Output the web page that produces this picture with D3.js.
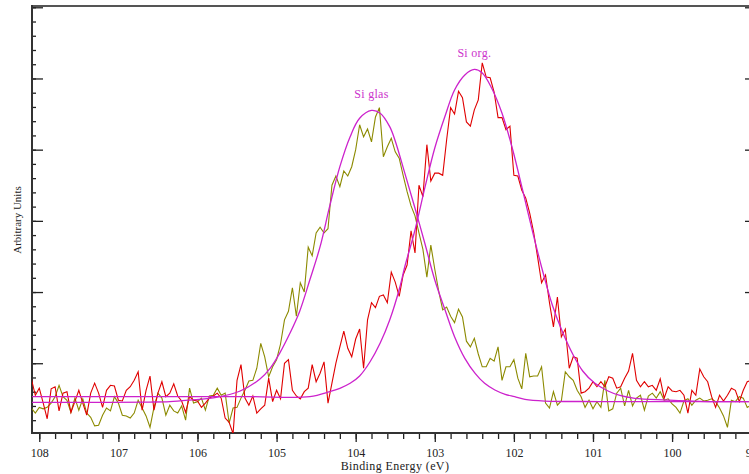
<!DOCTYPE html>
<html>
<head>
<meta charset="utf-8">
<script src="https://cdn.jsdelivr.net/npm/d3@7"></script>
<style>
    body { margin: 0; background: #fff; }
    text { font-family: "Liberation Serif", "Times New Roman", serif; }
</style>
</head>
<body>
<div id="chart-area"></div>
<script>
// XPS Si 2p region - two components, raw counts + fitted envelopes

// sampling of the scan (eV), first channel and step
var energyStart = 108.1,
    energyStep = 0.05;

// Si org. raw counts (red), one value per channel
var siOrgCounts = [
    780, 550, 650, 440, 220, 640, 670, 330, 580, 600,
    310, 460, 620, 440, 270, 580, 720, 580, 380, 620,
    690, 680, 480, 470, 620, 670, 760, 880, 340, 620,
    820, 340, 580, 740, 530, 580, 710, 540, 470, 310,
    530, 480, 470, 380, 440, 510, 540, 580, 510, 230,
    170, 10, 760, 980, 510, 410, 540, 300, 360, 410,
    790, 460, 620, 500, 1000, 1050, 620, 540, 500, 600,
    650, 980, 740, 860, 1020, 440, 720, 1000, 1230, 1450,
    1210, 1090, 1340, 1480, 930, 1610, 1850, 1780, 1940, 1960,
    1850, 2280, 2140, 1940, 2240, 2380, 2860, 2550, 3500, 3340,
    4070, 3560, 3670, 3670, 3640, 4140, 4590, 4500, 4820, 4730,
    4390, 4330, 4560, 4700, 5220, 5020, 5010, 4810, 4450, 4450,
    4280, 4330, 3640, 3630, 3430, 3320, 3110, 2840, 2490, 2130,
    2240, 1850, 1510, 1930, 1370, 1480, 930, 1090, 1070, 580,
    600, 650, 740, 670, 740, 670, 810, 790, 650, 670,
    790, 890, 1140, 760, 670, 740, 670, 690, 620, 780,
    510, 670, 610, 600, 620, 550, 300, 620, 550, 920,
    810, 740, 530, 380, 550, 470, 550, 650, 620, 460,
    620, 740, 760
];

// Si glas raw counts (olive)
var siGlasCounts = [
    370, 300, 380, 360, 380, 440, 530, 690, 530, 480,
    310, 510, 340, 500, 300, 240, 120, 130, 270, 370,
    330, 530, 440, 270, 260, 230, 300, 480, 370, 260,
    100, 380, 580, 510, 270, 410, 330, 300, 400, 200,
    650, 440, 460, 510, 340, 540, 550, 650, 550, 580,
    160, 370, 380, 510, 620, 750, 760, 930, 1280, 1090,
    810, 950, 1050, 1270, 1610, 1730, 2060, 1660, 2130, 2000,
    2630, 2510, 2830, 2910, 2830, 2890, 3500, 3630, 3480, 3700,
    3630, 3760, 4000, 4350, 4180, 4290, 4110, 4460, 4590, 3900,
    4040, 4160, 3970, 3880, 3640, 3410, 3210, 3070, 2830, 2600,
    2210, 2660, 2320, 2010, 1750, 1790, 1660, 1570, 1760, 1650,
    1310, 1230, 1350, 1130, 950, 950, 1070, 1030, 1230, 760,
    950, 950, 1050, 790, 640, 1140, 810, 820, 820, 950,
    440, 370, 600, 410, 470, 880, 810, 760, 620, 530,
    380, 480, 360, 460, 380, 760, 330, 360, 580, 650,
    400, 620, 400, 510, 550, 340, 540, 580, 510, 600,
    480, 500, 430, 380, 300, 470, 500, 410, 480, 510,
    470, 480, 500, 460, 370, 260, 100, 480, 460, 530,
    510, 380, 410
];

// fitted components (magenta), read at selected energies
var siGlasFitEnergy = [108.09, 107.23, 106.60, 106.35, 106.10, 105.78, 105.46, 105.21, 105.08, 104.96,
    104.83, 104.71, 104.58, 104.45, 104.33, 104.20, 104.07, 103.95, 103.80, 103.69,
    103.57, 103.50, 103.38, 103.25, 103.12, 103.00, 102.87, 102.75, 102.62, 102.49,
    102.37, 102.24, 102.11, 101.99, 101.86, 101.61, 100.91, 99.02];
var siGlasFitCounts = [450, 450, 455, 462, 483, 518, 610, 778, 932, 1143,
    1424, 1724, 2169, 2637, 3199, 3761, 4183, 4441, 4551, 4512,
    4323, 4122, 3673, 3177, 2661, 2169, 1748, 1373, 1069, 858,
    718, 624, 563, 530, 493, 469, 462, 462];

var siOrgFitEnergy = [108.09, 106.60, 105.34, 104.58, 104.33, 104.20, 104.07, 103.95, 103.82, 103.69,
    103.57, 103.44, 103.38, 103.25, 103.12, 103.00, 102.87, 102.75, 102.62, 102.50,
    102.40, 102.28, 102.15, 102.02, 101.89, 101.76, 101.63, 101.51, 101.38, 101.25,
    101.13, 100.98, 100.81, 100.66, 100.47, 100.07, 99.65, 99.02];
var siOrgFitCounts = [530, 530, 530, 530, 600, 648, 718, 821, 1017, 1284,
    1607, 2075, 2352, 2872, 3490, 4024, 4473, 4839, 5050, 5127,
    5078, 4863, 4511, 4020, 3434, 2830, 2268, 1804, 1425, 1116,
    891, 722, 610, 547, 507, 483, 465, 460];

var xMajorTicks = [108, 107, 106, 105, 104, 103, 102, 101, 100, 99];
var yMajorTicks = [1000, 2000, 3000, 4000, 5000, 6000];

var labels = [
    { text: 'Si glas', e: 103.80, v: 4730 },
    { text: 'Si org.', e: 102.50, v: 5300 }
];

var width = 749, height = 474;
var plot = { left: 32, right: 750, top: 6, bottom: 433 };

var svg = d3.select('#chart-area')
    .append('svg')
        .attr('width', width)
        .attr('height', height);

var x = d3.scaleLinear()
    .domain([108.092, 99.015])
    .range([plot.left, plot.right]);

var y = d3.scaleLinear()
    .domain([20, 6018])
    .range([plot.bottom, plot.top]);

svg.append('clipPath')
    .attr('id', 'plot-clip')
    .append('rect')
        .attr('x', plot.left)
        .attr('y', plot.top)
        .attr('width', plot.right - plot.left)
        .attr('height', plot.bottom - plot.top);

// X axis, minor + major ticks pointing down
var xMinor = d3.axisBottom(x).tickValues(x.ticks(45)).tickSize(6).tickFormat('');
svg.append('g')
    .attr('transform', 'translate(0,' + plot.bottom + ')')
    .call(xMinor)
    .call(g => g.select('.domain').remove());

var xMajor = d3.axisBottom(x).tickValues(xMajorTicks).tickSize(9).tickPadding(6).tickFormat(d3.format('d'));
svg.append('g')
    .attr('class', 'x-axis')
    .attr('transform', 'translate(0,' + plot.bottom + ')')
    .call(xMajor)
    .call(g => g.select('.domain').remove());

svg.select('.x-axis').selectAll('text')
    .attr('font-size', '12px')
    .attr('font-family', '"Liberation Serif", serif')
    .attr('fill', '#222');

// Y axis (left), ticks pointing inwards, no labels
var yMinor = d3.axisRight(y).tickValues(y.ticks(30)).tickSize(4).tickFormat('');
svg.append('g')
    .attr('transform', 'translate(' + plot.left + ',0)')
    .call(yMinor)
    .call(g => g.select('.domain').remove());

var yMajor = d3.axisRight(y).tickValues(yMajorTicks).tickSize(11).tickFormat('');
svg.append('g')
    .attr('transform', 'translate(' + plot.left + ',0)')
    .call(yMajor)
    .call(g => g.select('.domain').remove());

// right side, only short major ticks
var yRight = d3.axisLeft(y).tickValues(yMajorTicks).tickSize(4).tickFormat('');
svg.append('g')
    .attr('transform', 'translate(' + (plot.right - 1) + ',0)')
    .call(yRight)
    .call(g => g.select('.domain').remove());

svg.selectAll('.tick line')
    .attr('stroke', '#222')
    .attr('stroke-width', 1.3);

// frame
svg.append('line')
    .attr('x1', plot.left).attr('x2', plot.right)
    .attr('y1', plot.top).attr('y2', plot.top)
    .attr('stroke', '#555')
    .attr('stroke-width', 2);

svg.append('line')
    .attr('x1', plot.left).attr('x2', plot.right)
    .attr('y1', plot.bottom).attr('y2', plot.bottom)
    .attr('stroke', '#333')
    .attr('stroke-width', 2);

svg.append('line')
    .attr('x1', plot.left).attr('x2', plot.left)
    .attr('y1', plot.top - 1).attr('y2', plot.bottom + 1)
    .attr('stroke', '#333')
    .attr('stroke-width', 2);

// data
var rawOrg = siOrgCounts.map((v, i) => ({ e: energyStart - i * energyStep, v: v }));
var rawGlas = siGlasCounts.map((v, i) => ({ e: energyStart - i * energyStep, v: v }));
var fitGlas = siGlasFitEnergy.map((e, i) => ({ e: e, v: siGlasFitCounts[i] }));
var fitOrg = siOrgFitEnergy.map((e, i) => ({ e: e, v: siOrgFitCounts[i] }));

var rawLine = d3.line()
    .x(d => x(d.e))
    .y(d => y(d.v));

var fitLine = d3.line()
    .x(d => x(d.e))
    .y(d => y(d.v))
    .curve(d3.curveCatmullRom.alpha(0.5));

var lines = svg.append('g').attr('clip-path', 'url(#plot-clip)');

lines.append('path')
    .datum(rawGlas)
    .attr('d', rawLine)
    .attr('fill', 'none')
    .attr('stroke', '#8c8a00')
    .attr('stroke-width', 1.1);

lines.append('path')
    .datum(rawOrg)
    .attr('d', rawLine)
    .attr('fill', 'none')
    .attr('stroke', '#e00000')
    .attr('stroke-width', 1.1);

[fitGlas, fitOrg].forEach(fit => {
    lines.append('path')
        .datum(fit)
        .attr('d', fitLine)
        .attr('fill', 'none')
        .attr('stroke', '#cc22cc')
        .attr('stroke-width', 1.3);
});

// component labels
svg.selectAll('.comp-label')
    .data(labels)
    .enter()
    .append('text')
        .attr('class', 'comp-label')
        .attr('x', d => x(d.e))
        .attr('y', d => y(d.v))
        .attr('text-anchor', 'middle')
        .attr('font-size', '12px')
        .attr('letter-spacing', '0.3px')
        .attr('fill', '#cc33cc')
        .text(d => d.text);

// X-Axis Label
svg.append('text')
    .attr('text-anchor', 'middle')
    .attr('x', 395)
    .attr('y', 470)
    .attr('font-size', '12px')
    .attr('letter-spacing', '0.4px')
    .attr('fill', '#222')
    .text('Binding Energy (eV)');

// Y-Axis Label
svg.append('text')
    .attr('text-anchor', 'middle')
    .attr('x', -220)
    .attr('y', 21)
    .attr('transform', 'rotate(-90)')
    .attr('font-size', '11px')
    .attr('fill', '#222')
    .text('Arbitrary Units');
</script>
</body>
</html>
